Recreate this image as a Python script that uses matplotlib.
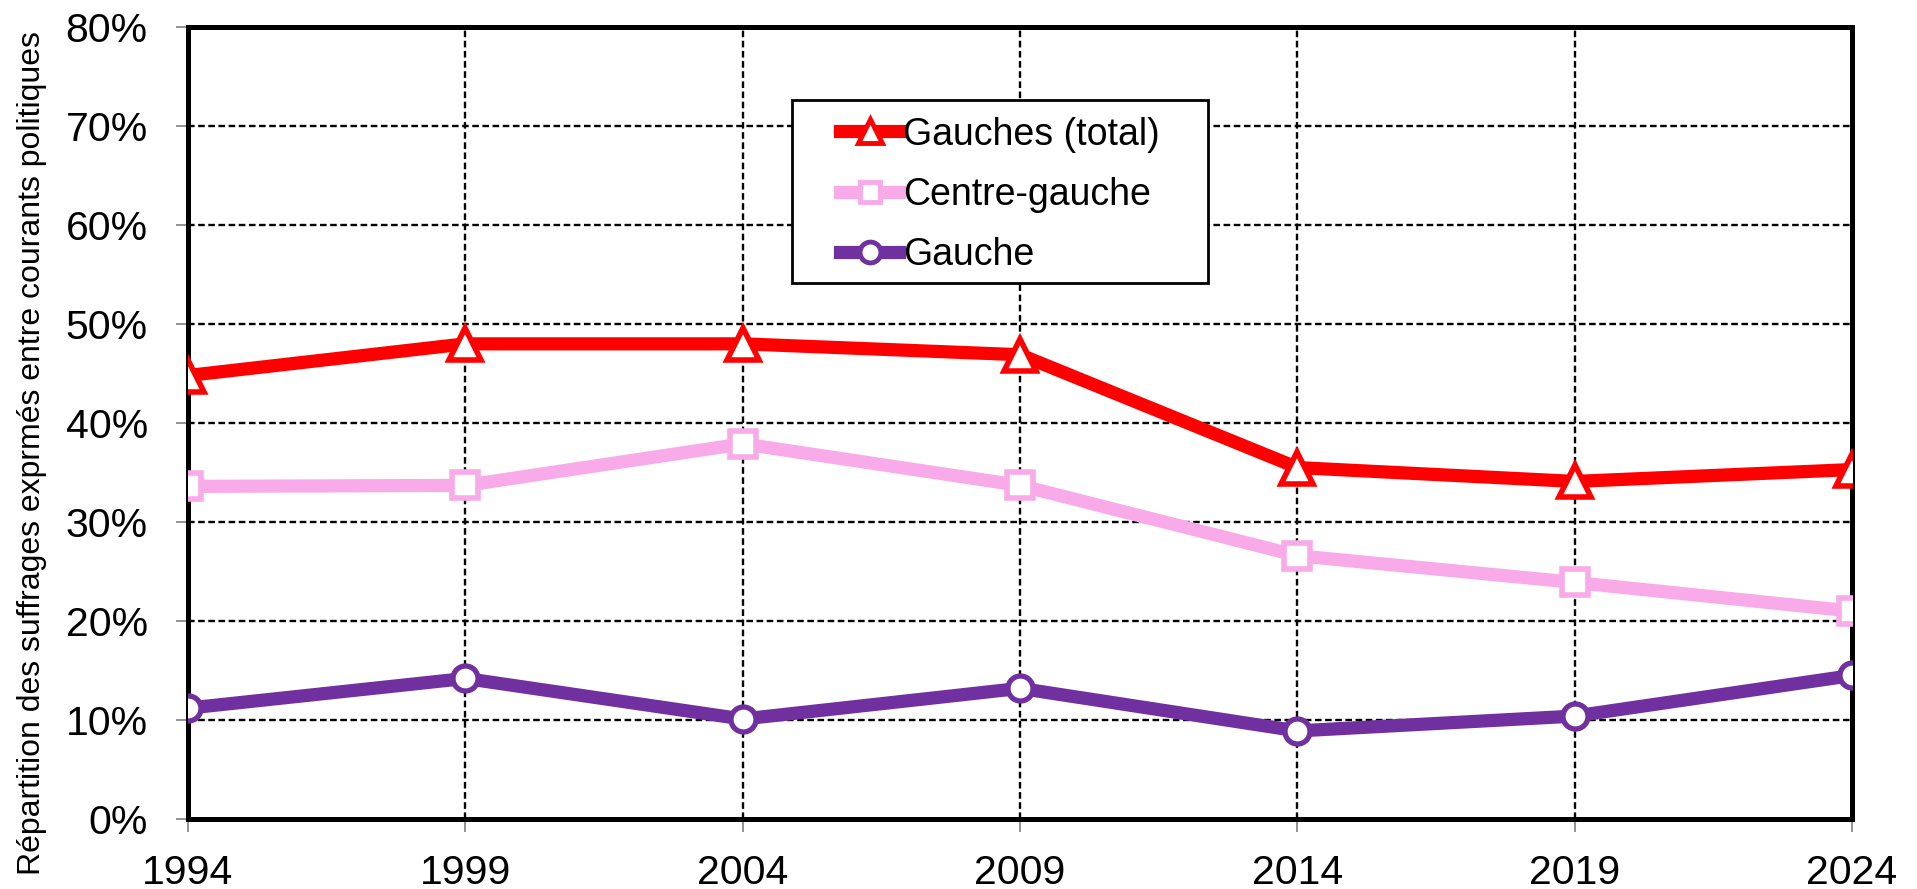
import matplotlib.pyplot as plt
from matplotlib.patches import Rectangle
from matplotlib.ticker import FuncFormatter

# Données
annees = [1994, 1999, 2004, 2009, 2014, 2019, 2024]
gauches_total = [44.8, 48.0, 48.0, 46.9, 35.5, 34.1, 35.3]
centre_gauche = [33.6, 33.7, 37.9, 33.7, 26.6, 23.9, 21.0]
gauche = [11.2, 14.2, 10.1, 13.2, 8.9, 10.4, 14.5]

plt.rcParams['font.family'] = ['Liberation Sans', 'DejaVu Sans']

fig = plt.figure(figsize=(19.17, 8.89), dpi=100)
ax = fig.add_axes([0.0981, 0.0787, 0.868, 0.8909])

ax.plot(annees, gauches_total, color='#FF0000', lw=9.5, marker='^', ms=23,
        mfc='white', mec='#FF0000', mew=4, label='Gauches (total)', zorder=4)
ax.plot(annees, centre_gauche, color='#F9AAE8', lw=9.5, marker='s', ms=19,
        mfc='white', mec='#F9AAE8', mew=4, label='Centre-gauche', zorder=3)
ax.plot(annees, gauche, color='#7030A0', lw=9.5, marker='o', ms=18,
        mfc='white', mec='#7030A0', mew=3.8, label='Gauche', zorder=3)

ax.set_xlim(1994, 2024)
ax.set_ylim(0, 80)
ax.set_xticks(annees)
ax.set_yticks(range(0, 81, 10))
ax.yaxis.set_major_formatter(FuncFormatter(lambda v, p: f'{v:.0f}%'))
ax.tick_params(axis='both', labelsize=29.5, length=9, width=1.2, color='#808080')
ax.tick_params(axis='y', pad=20)
ax.tick_params(axis='x', pad=16)

ax.grid(True, color='black', linestyle=(0, (2.8, 1.5)), linewidth=1.7)
for s in ax.spines.values():
    s.set_linewidth(3.6)
    s.set_color('black')
ax.set_axisbelow(True)

ax.set_ylabel('Répartition des suffrages exprmés entre courants politiques',
              fontsize=23)
ax.yaxis.set_label_coords(-0.085, 0.462)

# cadre de la légende
ax.add_patch(Rectangle((0.363, 0.677), 0.25, 0.231, transform=ax.transAxes,
                       facecolor='white', edgecolor='black', lw=2, zorder=5))
leg = ax.legend(loc='upper left', bbox_to_anchor=(0.392, 0.887), fontsize=27,
                frameon=False, handlelength=1.57, handletextpad=0.1,
                labelspacing=0.65, borderpad=0, borderaxespad=0)
leg.set_zorder(6)
for h, t in zip(leg.legend_handles, ['^', 's', 'o']):
    h.set_markersize(17 if t == '^' else 15)
    h.set_markeredgewidth(3.5)

fig.savefig('out.png', dpi=100)
